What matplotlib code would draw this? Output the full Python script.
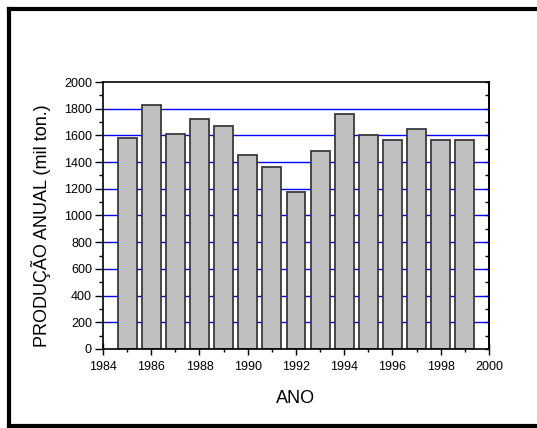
import matplotlib
matplotlib.use("Agg")
import matplotlib.pyplot as plt
from matplotlib.lines import Line2D
from matplotlib.ticker import MultipleLocator

plt.rcParams['font.family'] = ['Liberation Sans', 'DejaVu Sans']

# annual production, thousand tonnes
anos = [1985, 1986, 1987, 1988, 1989, 1990, 1991, 1992,
        1993, 1994, 1995, 1996, 1997, 1998, 1999]
producao = [1580, 1830, 1610, 1720, 1670, 1450, 1360, 1175,
            1480, 1758, 1606, 1568, 1650, 1563, 1568]
x_ticks = [1984, 1986, 1988, 1990, 1992, 1994, 1996, 1998, 2000]
y_ticks = [0, 200, 400, 600, 800, 1000, 1200, 1400, 1600, 1800, 2000]

fig = plt.figure(figsize=(5.37, 4.28), dpi=100)
ax = fig.add_axes([0.1918, 0.1846, 0.7188, 0.6238])

# blue horizontal grid behind the bars
for v in y_ticks[1:-1]:
    ax.axhline(v, color='#0000ff', lw=1.0, zorder=1)

ax.bar(anos, producao, width=0.78, color='#c0c0c0', edgecolor='#3a3a3a',
       linewidth=1.3, zorder=2)

ax.set_xlim(1984, 2000)
ax.set_ylim(0, 2000)
ax.set_xticks(x_ticks)
ax.set_yticks(y_ticks)
ax.xaxis.set_minor_locator(MultipleLocator(1))
ax.yaxis.set_minor_locator(MultipleLocator(100))

ax.tick_params(axis='x', which='major', direction='inout', length=8, width=1,
               labelsize=9, pad=5, top=False)
ax.tick_params(axis='x', which='minor', direction='inout', length=4, width=1, top=False)
ax.tick_params(axis='y', which='major', direction='out', length=6, width=1,
               labelsize=9, pad=2)
ax.tick_params(axis='y', which='minor', direction='out', length=3, width=1)

# inward ticks on the right side
ay = ax.secondary_yaxis('right')
ay.set_yticks(y_ticks)
ay.yaxis.set_minor_locator(MultipleLocator(100))
ay.tick_params(which='both', direction='in', length=3, width=1, labelright=False)
ay.spines['right'].set_linewidth(1.2)

for s in ax.spines.values():
    s.set_linewidth(1.2)

ax.set_xlabel('ANO', fontsize=13, labelpad=12)
ax.set_ylabel('PRODUÇÃO ANUAL (mil ton.)', fontsize=13)
ax.yaxis.set_label_coords(-0.134, 0.46)

# heavy frame round the figure
w = 3.0
fig.add_artist(Line2D([9 / 537, 1.0], [1 - 9 / 428, 1 - 9 / 428], color='black', lw=w))
fig.add_artist(Line2D([9 / 537, 9 / 537], [1 - 9 / 428, 1 - 426 / 428], color='black', lw=w))
fig.add_artist(Line2D([9 / 537, 1.0], [1 - 426 / 428, 1 - 426 / 428], color='black', lw=w))

fig.savefig('out.png', dpi=100)
